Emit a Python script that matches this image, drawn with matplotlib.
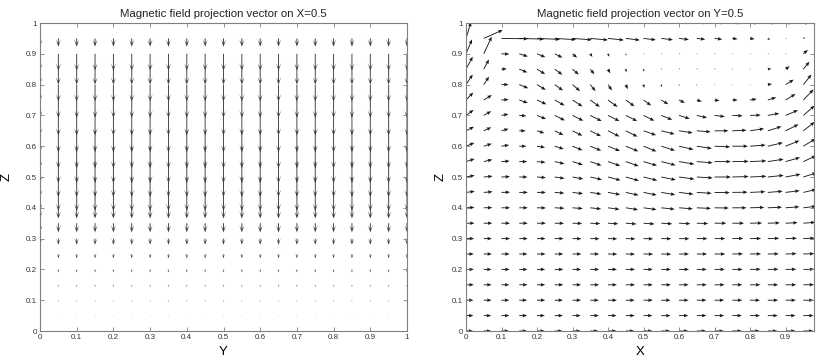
import numpy as np
import matplotlib.pyplot as plt

plt.rcParams['font.family'] = ['Liberation Sans', 'DejaVu Sans']

# ---- left panel: projection on X=0.5, all arrows point down ----
left_y = np.round(np.arange(0, 1.0001, 0.05), 2)
left_z = np.round(np.arange(0.05, 0.9501, 0.05), 2)
# arrow length (data units) for each z row, bottom to top
left_len = [0.003, 0.005, 0.007, 0.010, 0.014, 0.020, 0.030, 0.035, 0.06,
            0.065, 0.07, 0.072, 0.07, 0.065, 0.058, 0.055, 0.05, 0.055, 0.027]

# ---- right panel: projection on Y=0.5 ----
right_x = np.round(np.arange(0, 0.9501, 0.05), 2)
right_z = np.round(np.arange(0, 1.0001, 0.05), 2)
# angle in degrees per row (z = 0 ... 1), one value per x column
right_ang = [
    [0, 0, 0, 0, 0, 0, 0, 0, 0, 0, 0, 0, 0, 0, 0, 0, 0, 0, 0, 0],
    [0, 0, 0, 0, 0, 0, 0, 0, 0, 0, 0, 0, 0, 0, 0, 0, 0, 0, 0, 0],
    [0, 0, 0, 0, 0, 0, 0, 0, 0, 0, 0, 0, 0, 0, 0, 0, 0, 0, 0, 0],
    [0, 0, 0, 0, 0, 0, 0, 0, 0, 0, 0, 0, 0, 0, 0, 0, 0, 0, 0, 1],
    [0, 0, 0, 0, 0, 0, 0, 0, 0, 0, 0, 0, 0, 0, 0, 0, 1, 1, 1, 1],
    [0, 0, 0, 0, 0, 0, 0, 0, -1, -1, -1, -1, 0, 0, 0, 1, 1, 1, 2, 2],
    [0, 0, 0, 0, 0, 0, -1, -1, -2, -2, -2, -1, -1, 0, 0, 1, 1, 2, 2, 3],
    [0, 0, 0, 0, 0, -1, -2, -3, -4, -5, -5, -4, -3, -2, 0, 0, 1, 2, 3, 5],
    [3, 1, 0, 0, -1, -3, -5, -7, -9, -10, -9, -7, -5, -3, -1, 0, 2, 3, 5, 8],
    [8, 5, 2, 0, 0, -5, -8, -10, -12, -14, -13, -11, -8, -4, -1, 1, 3, 5, 8, 15],
    [12, 6, 3, 0, -5, -10, -12, -15, -17, -18, -16, -13, -9, -4, 0, 2, 3, 7, 12, 20],
    [20, 15, 5, 0, -6, -15, -20, -22, -22, -22, -19, -16, -11, -5, 0, 1, 3, 10, 18, 28],
    [25, 20, 10, 0, -10, -20, -25, -25, -25, -25, -25, -20, -15, -10, -3, 0, 5, 15, 25, 35],
    [30, 28, 18, 0, -20, -30, -30, -30, -30, -30, -22, -16, -10, -5, 0, 3, 10, 20, 30, 42],
    [40, 33, 12, -5, -25, -30, -30, -30, -30, -30, -30, -25, -20, -15, -8, -3, 2, 12, 26, 45],
    [50, 35, 5, -22, -28, -33, -37, -40, -40, -40, -40, -35, -30, -20, -10, 0, 10, 20, 35, 50],
    [60, 60, 0, -25, -35, -40, -45, -55, -60, -70, -80, -82, -85, -88, -90, -90, -90, 10, 35, 55],
    [65, 65, 5, -25, -35, -40, -45, -55, -65, -80, -85, 60, 60, 60, 60, 0, 0, 10, 40, 55],
    [70, 68, -3, -20, -25, -30, -45, -60, -70, -80, 0, 0, 0, 0, 0, 0, 0, 0, 0, 45],
    [75, 27, -1, -2, -3, -4, -5, -6, -7, -8, -8, -8, -8, -8, -8, -8, -10, -40, 0, 30],
    [80, 30, 6, 6, 6, 5, 5, 5, 5, 5, 4, 4, 4, 4, 4, 3, 3, 3, 3, 3],
]
# arrow length (data units) per row (z = 0 ... 1)
right_len = [
    [0.020, 0.021, 0.021, 0.022, 0.022, 0.022, 0.023, 0.023, 0.024, 0.024, 0.025, 0.025, 0.026, 0.026, 0.026, 0.027, 0.027, 0.027, 0.028, 0.028],
    [0.021, 0.021, 0.022, 0.022, 0.022, 0.023, 0.023, 0.024, 0.024, 0.025, 0.025, 0.026, 0.026, 0.027, 0.027, 0.027, 0.028, 0.028, 0.028, 0.029],
    [0.021, 0.022, 0.022, 0.022, 0.023, 0.023, 0.024, 0.024, 0.025, 0.025, 0.026, 0.026, 0.027, 0.027, 0.027, 0.028, 0.028, 0.029, 0.029, 0.029],
    [0.022, 0.022, 0.022, 0.023, 0.023, 0.024, 0.024, 0.025, 0.025, 0.026, 0.026, 0.027, 0.027, 0.028, 0.028, 0.028, 0.029, 0.029, 0.030, 0.030],
    [0.022, 0.022, 0.023, 0.023, 0.023, 0.024, 0.024, 0.025, 0.025, 0.026, 0.026, 0.027, 0.028, 0.028, 0.029, 0.029, 0.030, 0.030, 0.030, 0.031],
    [0.022, 0.023, 0.023, 0.023, 0.024, 0.024, 0.025, 0.025, 0.026, 0.026, 0.027, 0.028, 0.028, 0.029, 0.030, 0.030, 0.031, 0.031, 0.031, 0.031],
    [0.023, 0.023, 0.024, 0.024, 0.024, 0.025, 0.025, 0.026, 0.026, 0.027, 0.027, 0.028, 0.029, 0.030, 0.030, 0.031, 0.031, 0.032, 0.032, 0.032],
    [0.024, 0.024, 0.024, 0.024, 0.025, 0.026, 0.027, 0.028, 0.029, 0.030, 0.031, 0.031, 0.032, 0.032, 0.033, 0.033, 0.034, 0.034, 0.034, 0.034],
    [0.024, 0.024, 0.024, 0.024, 0.025, 0.027, 0.029, 0.031, 0.033, 0.035, 0.037, 0.038, 0.039, 0.040, 0.040, 0.040, 0.040, 0.040, 0.039, 0.037],
    [0.025, 0.025, 0.024, 0.024, 0.025, 0.027, 0.030, 0.032, 0.035, 0.037, 0.038, 0.040, 0.041, 0.042, 0.043, 0.043, 0.043, 0.042, 0.040, 0.038],
    [0.025, 0.025, 0.024, 0.023, 0.025, 0.028, 0.031, 0.034, 0.037, 0.039, 0.040, 0.042, 0.044, 0.045, 0.046, 0.046, 0.046, 0.045, 0.043, 0.040],
    [0.026, 0.025, 0.023, 0.022, 0.024, 0.028, 0.031, 0.034, 0.037, 0.039, 0.040, 0.042, 0.044, 0.045, 0.046, 0.046, 0.046, 0.045, 0.043, 0.041],
    [0.026, 0.024, 0.022, 0.020, 0.023, 0.027, 0.031, 0.034, 0.037, 0.039, 0.040, 0.041, 0.042, 0.043, 0.044, 0.044, 0.044, 0.044, 0.043, 0.042],
    [0.026, 0.024, 0.021, 0.018, 0.022, 0.028, 0.032, 0.035, 0.037, 0.038, 0.038, 0.039, 0.039, 0.039, 0.039, 0.040, 0.040, 0.041, 0.042, 0.043],
    [0.028, 0.025, 0.020, 0.020, 0.028, 0.033, 0.035, 0.037, 0.037, 0.037, 0.035, 0.034, 0.032, 0.030, 0.029, 0.029, 0.030, 0.033, 0.039, 0.045],
    [0.032, 0.028, 0.020, 0.026, 0.030, 0.033, 0.035, 0.035, 0.035, 0.032, 0.028, 0.024, 0.019, 0.015, 0.014, 0.015, 0.019, 0.025, 0.034, 0.045],
    [0.038, 0.030, 0.020, 0.028, 0.030, 0.030, 0.030, 0.026, 0.022, 0.016, 0.011, 0.008, 0.005, 0.004, 0.003, 0.003, 0.003, 0.012, 0.028, 0.040],
    [0.045, 0.035, 0.015, 0.025, 0.028, 0.028, 0.025, 0.020, 0.015, 0.010, 0.008, 0.004, 0.004, 0.004, 0.004, 0.002, 0.002, 0.010, 0.015, 0.030],
    [0.050, 0.060, 0.022, 0.026, 0.026, 0.025, 0.018, 0.012, 0.010, 0.006, 0.003, 0.003, 0.003, 0.003, 0.003, 0.003, 0.003, 0.003, 0.003, 0.018],
    [0.055, 0.060, 0.075, 0.070, 0.065, 0.060, 0.055, 0.050, 0.045, 0.040, 0.035, 0.033, 0.028, 0.024, 0.022, 0.015, 0.013, 0.008, 0.003, 0.006],
    [0.020, 0.050, 0.055, 0.052, 0.050, 0.047, 0.045, 0.042, 0.040, 0.038, 0.036, 0.034, 0.032, 0.030, 0.028, 0.026, 0.024, 0.022, 0.020, 0.018],
]

fig = plt.figure(figsize=(8.16, 3.6), dpi=100)
ax1 = fig.add_axes([40 / 816, 29 / 360, 367 / 816, 308 / 360])
ax2 = fig.add_axes([466 / 816, 29 / 360, 348 / 816, 308 / 360])

# left quiver
YY, ZZ = np.meshgrid(left_y, left_z)
V1 = -np.array(left_len)[:, None] * np.ones_like(YY)
ax1.quiver(YY, ZZ, np.zeros_like(YY), V1, angles='xy', scale_units='xy', scale=1,
           units='dots', width=0.9, headwidth=5.5, headlength=8, headaxislength=4,
           color='#3a3a3a')

# right quiver
XX, ZZ2 = np.meshgrid(right_x, right_z)
ang = np.radians(np.array(right_ang, dtype=float))
ln = np.array(right_len)
ax2.quiver(XX, ZZ2, ln * np.cos(ang), ln * np.sin(ang), angles='xy', scale_units='xy',
           scale=1, units='dots', width=0.9, headwidth=4, headlength=5,
           headaxislength=4.5, color='#1a1a1a')

ax1.set_xlim(0, 1)
ax1.set_ylim(0, 1)
ax1.set_xticks(np.round(np.arange(0, 1.0001, 0.1), 1))
ax1.set_xticklabels(['0', '0.1', '0.2', '0.3', '0.4', '0.5', '0.6', '0.7', '0.8', '0.9', '1'])
ax1.set_title('Magnetic field projection vector on X=0.5', fontsize=8.2, color='#222222', pad=4)
ax1.set_xlabel('Y', fontsize=9.5)
ax1.set_ylabel('Z', fontsize=9.5)
ax1.xaxis.set_label_coords(0.5, -0.05)
ax1.yaxis.set_label_coords(-0.074, 0.5)

ax2.set_xlim(0, 0.98)
ax2.set_ylim(0, 1)
ax2.set_xticks(np.round(np.arange(0, 0.9001, 0.1), 1))
ax2.set_xticklabels(['0', '0.1', '0.2', '0.3', '0.4', '0.5', '0.6', '0.7', '0.8', '0.9'])
ax2.set_title('Magnetic field projection vector on Y=0.5', fontsize=8.2, color='#222222', pad=4)
ax2.set_xlabel('X', fontsize=9.5)
ax2.set_ylabel('Z', fontsize=9.5)
ax2.xaxis.set_label_coords(0.5, -0.05)
ax2.yaxis.set_label_coords(-0.057, 0.5)

ytl = ['0', '0.1', '0.2', '0.3', '0.4', '0.5', '0.6', '0.7', '0.8', '0.9', '1']
for ax in (ax1, ax2):
    ax.set_yticks(np.round(np.arange(0, 1.0001, 0.1), 1))
    ax.set_yticklabels(ytl)
    ax.tick_params(direction='in', length=3, width=0.6, color='#7f7f7f',
                   labelcolor='#333333', labelsize=5.8, top=True, right=True, pad=2)
    for s in ax.spines.values():
        s.set_color('#7f7f7f')
        s.set_linewidth(0.8)

fig.savefig('out.png', dpi=100)
